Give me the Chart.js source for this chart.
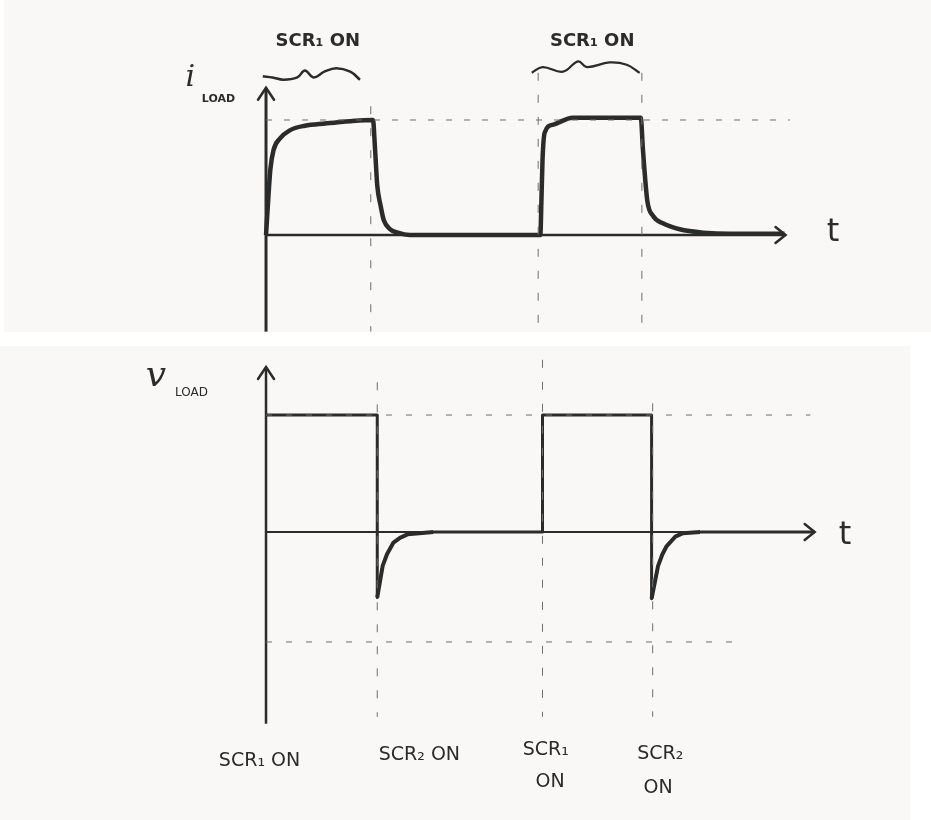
<!DOCTYPE html>
<html><head><meta charset="utf-8">
<script src="https://cdn.jsdelivr.net/npm/chart.js@4.4.1/dist/chart.umd.min.js"></script>
<style>
html,body{margin:0;padding:0;background:#fff;width:931px;height:820px;overflow:hidden}
.panel{position:absolute;background:#f9f8f6}
canvas{position:absolute;left:0}
</style></head><body>
<div class="panel" style="left:4px;top:0;width:927px;height:332px"></div>
<div class="panel" style="left:0;top:346px;width:910px;height:474px"></div>
<canvas id="top" width="931" height="332" style="top:0"></canvas>
<canvas id="bot" width="931" height="474" style="top:346px"></canvas>
<script>
// ---- Data (time in arbitrary units, amplitudes normalised) ----
// Top panel: load current
const tTop  = [0, 0.2, 0.4, 0.7, 1.3, 2.2, 3.6, 5.5, 7.8, 9.9, 10.1, 10.3, 10.6, 10.9, 11.5, 12.2, 13.3, 25.4, 25.5, 25.6, 25.8, 26.6, 28.4, 34.7, 34.9, 35.3, 35.8, 36.8, 38.3, 40.5, 43.0, 48.0];
const iLoad = [0, 0.30, 0.57, 0.74, 0.84, 0.91, 0.95, 0.97, 0.99, 1.00, 0.74, 0.43, 0.26, 0.13, 0.05, 0.02, 0, 0, 0.30, 0.65, 0.89, 0.96, 1.02, 1.02, 0.74, 0.30, 0.17, 0.10, 0.05, 0.02, 0.01, 0.01];
const topEvents = [9.7, 25.2, 34.8];
const topEventTop = [1.12, 1.41, 1.41];
const topLevel = 1.0;
// Braces above the top panel ("SCR1 ON" intervals)
const brace1T = [-0.3, 0.6, 1.6, 2.9, 3.6, 4.4, 5.4, 6.5, 7.8, 8.7];
const brace1Y = [1.38, 1.37, 1.35, 1.37, 1.43, 1.37, 1.42, 1.45, 1.42, 1.35];
const brace2T = [24.6, 25.6, 27.5, 28.9, 29.7, 31.8, 33.4, 34.6];
const brace2Y = [1.41, 1.46, 1.42, 1.51, 1.46, 1.50, 1.48, 1.41];

// Bottom panel: load voltage
const tBot  = [0, 10.3, 10.3, 10.8, 11.2, 11.8, 12.4, 13.1, 14.2, 15.5, 25.6, 25.6, 35.7, 35.7, 36.3, 36.7, 37.1, 37.9, 38.6, 40.2, 50.8];
const vLoad = [1.0, 1.0, -0.56, -0.29, -0.19, -0.09, -0.05, -0.02, -0.01, 0, 0, 1.0, 1.0, -0.57, -0.29, -0.19, -0.12, -0.04, -0.01, 0, 0];
const botEvents = [10.3, 25.6, 35.8];
const botEventTop = [1.28, 1.66, 1.10];
const botLevels = [1.0, -0.94];
const botLevelEnd = [50.4, 43.9];

// Labels
const topLabels = [
  {text:'SCR\u2081 ON', t:4.8, y:1.68, font:'bold 18px "DejaVu Sans"'},
  {text:'SCR\u2081 ON', t:30.2, y:1.68, font:'bold 18px "DejaVu Sans"'},
  {text:'i', t:-7.0, y:1.36, font:'italic 30px "DejaVu Serif"'},
  {text:'LOAD', t:-4.4, y:1.18, font:'bold 11px "DejaVu Sans"'},
  {text:'t', t:52.5, y:0.02, font:'32px "DejaVu Sans"'}
];
const botLabels = [
  {text:'v', t:-10.2, y:1.33, font:'italic 36px "DejaVu Serif"'},
  {text:'LOAD', t:-6.9, y:1.19, font:'12px "DejaVu Sans"'},
  {text:'t', t:53.6, y:-0.03, font:'32px "DejaVu Sans"'},
  {text:'SCR\u2081 ON', t:-0.6, y:-1.96, font:'19px "DejaVu Sans"'},
  {text:'SCR\u2082 ON', t:14.2, y:-1.91, font:'19px "DejaVu Sans"'},
  {text:'SCR\u2081', t:25.9, y:-1.86, font:'19px "DejaVu Sans"'},
  {text:'ON', t:26.3, y:-2.14, font:'19px "DejaVu Sans"'},
  {text:'SCR\u2082', t:36.5, y:-1.90, font:'19px "DejaVu Sans"'},
  {text:'ON', t:36.3, y:-2.19, font:'19px "DejaVu Sans"'}
];

const INK = '#2b2b2b';
const DASH = '#6e6e6e';
const pts = (xs, ys) => xs.map((x, i) => ({x, y: ys[i]}));
const line = (data, extra) => Object.assign({data, borderColor: INK, borderWidth: 3, pointRadius: 0, tension: 0, fill: false}, extra);

function annotPlugin(labels, arrows) {
  return {
    id: 'annot',
    afterDatasetsDraw(chart) {
      const c = chart.ctx, xs = chart.scales.x, ys = chart.scales.y;
      c.save();
      c.strokeStyle = INK; c.lineWidth = 2.5; c.lineCap = 'round';
      arrows.forEach(a => {
        const px = xs.getPixelForValue(a.t), py = ys.getPixelForValue(a.y);
        c.beginPath();
        if (a.dir === 'up') { c.moveTo(px - 8, py + 12); c.lineTo(px, py); c.lineTo(px + 8, py + 12); }
        else { c.moveTo(px - 10, py - 8); c.lineTo(px, py); c.lineTo(px - 10, py + 8); }
        c.stroke();
      });
      c.fillStyle = INK; c.textAlign = 'center'; c.textBaseline = 'middle';
      labels.forEach(l => {
        c.font = l.font;
        c.fillText(l.text, xs.getPixelForValue(l.t), ys.getPixelForValue(l.y));
      });
      c.restore();
    }
  };
}

function baseOptions(xmin, xmax, ymin, ymax) {
  return {
    responsive: false, animation: false, events: [],
    layout: {padding: 0},
    plugins: {legend: {display: false}, tooltip: {enabled: false}},
    scales: {
      x: {type: 'linear', display: false, min: xmin, max: xmax},
      y: {type: 'linear', display: false, min: ymin, max: ymax}
    }
  };
}

// ---- Top chart ----
const topDatasets = [
  line(pts([0, 48.5], [topLevel, topLevel]), {borderColor: DASH, borderWidth: 1, borderDash: [6, 12]}),
  ...topEvents.map((t, k) => line(pts([t, t], [topEventTop[k], -0.84]), {borderColor: DASH, borderWidth: 1, borderDash: [8, 14]})),
  line(pts([0, 0], [-0.84, 1.28]), {borderWidth: 3}),
  line(pts([0, 48.1], [0, 0]), {borderWidth: 2.5}),
  line(pts(tTop, iLoad), {borderWidth: 4.5, cubicInterpolationMode: 'monotone', borderJoinStyle: 'round'}),
  line(pts(brace1T, brace1Y), {borderWidth: 2.5, tension: 0.4}),
  line(pts(brace2T, brace2Y), {borderWidth: 2.2, tension: 0.4})
];
new Chart(document.getElementById('top'), {
  type: 'scatter',
  data: {datasets: topDatasets.map(d => Object.assign(d, {showLine: true}))},
  options: baseOptions(-24.63, 61.57, -0.843, 2.043),
  plugins: [annotPlugin(topLabels, [{t: 0, y: 1.28, dir: 'up'}, {t: 48.1, y: 0, dir: 'right'}])]
});

// ---- Bottom chart ----
const botDatasets = [
  ...botLevels.map((v, k) => line(pts([0, botLevelEnd[k]], [v, v]), {borderColor: DASH, borderWidth: 1, borderDash: [6, 14]})),
  ...botEvents.map((t, k) => line(pts([t, t], [botEventTop[k], -1.58]), {borderColor: DASH, borderWidth: 1, borderDash: [8, 14]})),
  line(pts([0, 0], [-1.64, 1.41]), {borderWidth: 2.5}),
  line(pts([0, 50.8], [0, 0]), {borderWidth: 2}),
  line(pts(tBot, vLoad), {borderWidth: 3, borderJoinStyle: 'round',
    segment: {borderWidth: ctx => (ctx.p0.parsed.y < -0.005 ? 4 : 3)}})
];
new Chart(document.getElementById('bot'), {
  type: 'scatter',
  data: {datasets: botDatasets.map(d => Object.assign(d, {showLine: true}))},
  options: baseOptions(-24.63, 61.57, -2.462, 1.590),
  plugins: [annotPlugin(botLabels, [{t: 0, y: 1.41, dir: 'up'}, {t: 50.8, y: 0, dir: 'right'}])]
});
</script>
</body></html>
